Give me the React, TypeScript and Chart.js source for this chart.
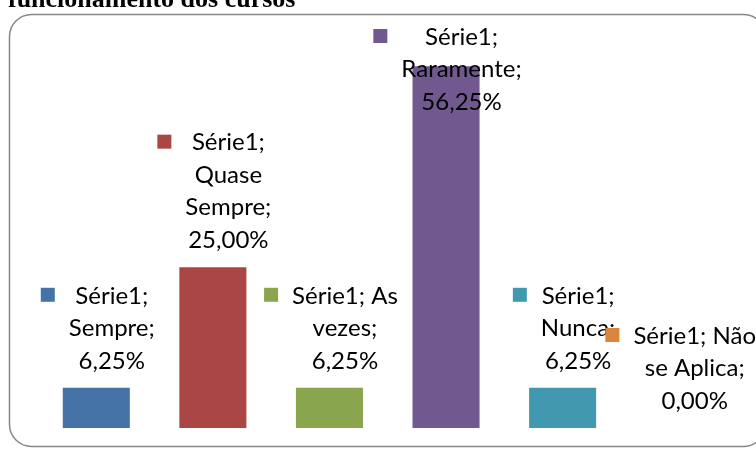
import React, { useEffect, useRef } from "react";
import { Chart, registerables } from "chart.js";

Chart.register(...registerables);

const titleText = "funcionamento dos cursos";
const seriesName = "Série1";
const categories = ["Sempre", "Quase Sempre", "As vezes", "Raramente", "Nunca", "Não se Aplica"];
const values = [6.25, 25.0, 6.25, 56.25, 6.25, 0.0];
const colors = ["#4572A7", "#AA4643", "#89A54E", "#71588F", "#4198AF", "#DB843D"];
const labelLines = [
  ["Série1;", "Sempre;", "6,25%"],
  ["Série1;", "Quase", "Sempre;", "25,00%"],
  ["Série1; As", "vezes;", "6,25%"],
  ["Série1;", "Raramente;", "56,25%"],
  ["Série1;", "Nunca;", "6,25%"],
  ["Série1; Não", "se Aplica;", "0,00%"],
];
const yMax = 60;

const LABEL_FONT = '24px Lato, "Open Sans", sans-serif';
const LINE_H = 32.5;
const KEY = 14;
const KEY_GAP = 14;

const decorPlugin = {
  id: "decor",
  beforeDraw(chart: any) {
    const ctx = chart.ctx;
    ctx.save();
    ctx.fillStyle = "#fff";
    ctx.fillRect(0, 0, chart.width, chart.height);
    ctx.fillStyle = "#000";
    ctx.font = 'bold 26px "Liberation Serif", "Times New Roman", serif';
    ctx.textBaseline = "alphabetic";
    ctx.textAlign = "left";
    ctx.fillText(titleText, 8, 7);
    ctx.strokeStyle = "#868686";
    ctx.lineWidth = 1.5;
    ctx.beginPath();
    (ctx as any).roundRect(9.5, 14.5, 756, 432, 22);
    ctx.stroke();
    ctx.restore();
  },
  afterDatasetsDraw(chart: any) {
    const ctx = chart.ctx;
    const meta = chart.getDatasetMeta(0);
    ctx.save();
    ctx.font = LABEL_FONT;
    ctx.textBaseline = "middle";
    ctx.textAlign = "center";
    meta.data.forEach((bar: any, i: number) => {
      const lines = labelLines[i];
      const w = Math.max(...lines.map((l: string) => ctx.measureText(l).width));
      const blockW = KEY + KEY_GAP + w;
      const x0 = bar.x + 1.5 - blockW / 2;
      const lastC = bar.y - 27;
      let firstC = lastC - (lines.length - 1) * LINE_H;
      const minFirst = chart.chartArea.top - 5;
      if (firstC < minFirst) firstC = minFirst;
      ctx.fillStyle = colors[i];
      ctx.fillRect(x0, firstC - 8, KEY, KEY);
      ctx.fillStyle = "#000";
      lines.forEach((l: string, k: number) => {
        ctx.fillText(l, x0 + KEY + KEY_GAP + w / 2, firstC + k * LINE_H);
      });
    });
    ctx.restore();
  },
};

export default function App() {
  const ref = useRef<HTMLCanvasElement | null>(null);
  useEffect(() => {
    if (!ref.current) return;
    const chart = new Chart(ref.current, {
      type: "bar",
      data: {
        labels: categories,
        datasets: [
          {
            label: seriesName,
            data: values,
            backgroundColor: colors,
            borderWidth: 0,
            barPercentage: 0.575,
            categoryPercentage: 1,
          },
        ],
      },
      options: {
        animation: false,
        responsive: false,
        devicePixelRatio: 1,
        layout: { padding: { left: 38, right: 18.5, top: 42, bottom: 21 } },
        plugins: { legend: { display: false }, tooltip: { enabled: false }, title: { display: false } },
        scales: {
          x: { display: false },
          y: { display: false, min: 0, max: yMax },
        },
      },
      plugins: [decorPlugin],
    });
    return () => chart.destroy();
  }, []);
  return (
    <div style={{ position: "absolute", left: 0, top: 0, width: 756, height: 449 }}>
      <canvas ref={ref} width={756} height={449} style={{ display: "block", width: 756, height: 449 }} />
    </div>
  );
}
